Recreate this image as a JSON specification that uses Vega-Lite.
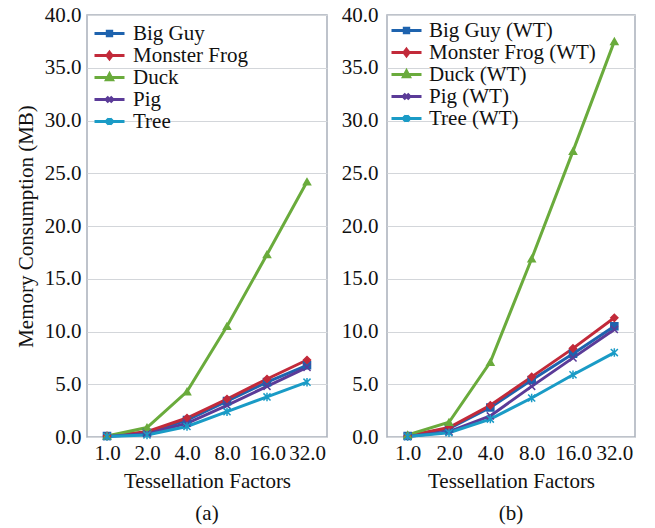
{
  "$schema": "https://vega.github.io/schema/vega-lite/v6.json",
  "padding": {"left": 14, "top": 3, "right": 10, "bottom": 2},
  "config": {
    "font": "Liberation Serif",
    "view": {"stroke": "#a9b0ba", "strokeWidth": 1.5},
    "axis": {"labelFont": "Liberation Serif", "titleFont": "Liberation Serif", "labelFontSize": 21, "titleFontSize": 21, "titleFontWeight": "normal", "labelColor": "#111", "titleColor": "#111", "ticks": false, "domain": false, "gridColor": "#d3d6da", "gridWidth": 1.2},
    "legend": {"labelFont": "Liberation Serif", "labelFontSize": 21, "labelColor": "#111", "labelLimit": 300, "rowPadding": 0, "symbolStrokeWidth": 3, "symbolSize": 400},
    "title": {"font": "Liberation Serif", "fontSize": 21, "fontWeight": "normal", "color": "#111"},
    "point": {"filled": true, "size": 50, "strokeWidth": 1.5, "opacity": 1}
  },
  "data": {"values": [
    {"panel":"a","series":"Big Guy","m":"Big Guy","f":"1.0","v":0.1},{"panel":"a","series":"Big Guy","m":"Big Guy","f":"2.0","v":0.4},{"panel":"a","series":"Big Guy","m":"Big Guy","f":"4.0","v":1.6},{"panel":"a","series":"Big Guy","m":"Big Guy","f":"8.0","v":3.4},{"panel":"a","series":"Big Guy","m":"Big Guy","f":"16.0","v":5.2},{"panel":"a","series":"Big Guy","m":"Big Guy","f":"32.0","v":6.8},
    {"panel":"a","series":"Monster Frog","m":"Monster Frog","f":"1.0","v":0.1},{"panel":"a","series":"Monster Frog","m":"Monster Frog","f":"2.0","v":0.5},{"panel":"a","series":"Monster Frog","m":"Monster Frog","f":"4.0","v":1.8},{"panel":"a","series":"Monster Frog","m":"Monster Frog","f":"8.0","v":3.6},{"panel":"a","series":"Monster Frog","m":"Monster Frog","f":"16.0","v":5.5},{"panel":"a","series":"Monster Frog","m":"Monster Frog","f":"32.0","v":7.3},
    {"panel":"a","series":"Duck","m":"Duck","f":"1.0","v":0.1},{"panel":"a","series":"Duck","m":"Duck","f":"2.0","v":0.9},{"panel":"a","series":"Duck","m":"Duck","f":"4.0","v":4.3},{"panel":"a","series":"Duck","m":"Duck","f":"8.0","v":10.5},{"panel":"a","series":"Duck","m":"Duck","f":"16.0","v":17.3},{"panel":"a","series":"Duck","m":"Duck","f":"32.0","v":24.2},
    {"panel":"a","series":"Pig","m":"Pig","f":"1.0","v":0.05},{"panel":"a","series":"Pig","m":"Pig","f":"2.0","v":0.3},{"panel":"a","series":"Pig","m":"Pig","f":"4.0","v":1.3},{"panel":"a","series":"Pig","m":"Pig","f":"8.0","v":3.0},{"panel":"a","series":"Pig","m":"Pig","f":"16.0","v":4.8},{"panel":"a","series":"Pig","m":"Pig","f":"32.0","v":6.6},
    {"panel":"a","series":"Tree","m":"Tree","f":"1.0","v":0.05},{"panel":"a","series":"Tree","m":"Tree","f":"2.0","v":0.2},{"panel":"a","series":"Tree","m":"Tree","f":"4.0","v":1.0},{"panel":"a","series":"Tree","m":"Tree","f":"8.0","v":2.4},{"panel":"a","series":"Tree","m":"Tree","f":"16.0","v":3.8},{"panel":"a","series":"Tree","m":"Tree","f":"32.0","v":5.2},
    {"panel":"b","series":"Big Guy (WT)","m":"Big Guy","f":"1.0","v":0.1},{"panel":"b","series":"Big Guy (WT)","m":"Big Guy","f":"2.0","v":0.8},{"panel":"b","series":"Big Guy (WT)","m":"Big Guy","f":"4.0","v":2.8},{"panel":"b","series":"Big Guy (WT)","m":"Big Guy","f":"8.0","v":5.4},{"panel":"b","series":"Big Guy (WT)","m":"Big Guy","f":"16.0","v":7.9},{"panel":"b","series":"Big Guy (WT)","m":"Big Guy","f":"32.0","v":10.5},
    {"panel":"b","series":"Monster Frog (WT)","m":"Monster Frog","f":"1.0","v":0.1},{"panel":"b","series":"Monster Frog (WT)","m":"Monster Frog","f":"2.0","v":0.9},{"panel":"b","series":"Monster Frog (WT)","m":"Monster Frog","f":"4.0","v":3.0},{"panel":"b","series":"Monster Frog (WT)","m":"Monster Frog","f":"8.0","v":5.7},{"panel":"b","series":"Monster Frog (WT)","m":"Monster Frog","f":"16.0","v":8.4},{"panel":"b","series":"Monster Frog (WT)","m":"Monster Frog","f":"32.0","v":11.3},
    {"panel":"b","series":"Duck (WT)","m":"Duck","f":"1.0","v":0.2},{"panel":"b","series":"Duck (WT)","m":"Duck","f":"2.0","v":1.4},{"panel":"b","series":"Duck (WT)","m":"Duck","f":"4.0","v":7.1},{"panel":"b","series":"Duck (WT)","m":"Duck","f":"8.0","v":16.9},{"panel":"b","series":"Duck (WT)","m":"Duck","f":"16.0","v":27.1},{"panel":"b","series":"Duck (WT)","m":"Duck","f":"32.0","v":37.5},
    {"panel":"b","series":"Pig (WT)","m":"Pig","f":"1.0","v":0.05},{"panel":"b","series":"Pig (WT)","m":"Pig","f":"2.0","v":0.5},{"panel":"b","series":"Pig (WT)","m":"Pig","f":"4.0","v":2.0},{"panel":"b","series":"Pig (WT)","m":"Pig","f":"8.0","v":4.8},{"panel":"b","series":"Pig (WT)","m":"Pig","f":"16.0","v":7.5},{"panel":"b","series":"Pig (WT)","m":"Pig","f":"32.0","v":10.2},
    {"panel":"b","series":"Tree (WT)","m":"Tree","f":"1.0","v":0.05},{"panel":"b","series":"Tree (WT)","m":"Tree","f":"2.0","v":0.4},{"panel":"b","series":"Tree (WT)","m":"Tree","f":"4.0","v":1.7},{"panel":"b","series":"Tree (WT)","m":"Tree","f":"8.0","v":3.7},{"panel":"b","series":"Tree (WT)","m":"Tree","f":"16.0","v":5.9},{"panel":"b","series":"Tree (WT)","m":"Tree","f":"32.0","v":8.0}
  ]},
  "resolve": {"scale": {"color": "independent"}, "legend": {"color": "independent"}},
  "spacing": 12,
  "hconcat": [
    {
      "width": 240, "height": 422,
      "title": {"text": "(a)", "orient": "bottom", "offset": 12},
      "transform": [{"filter": "datum.panel == 'a'"}],
      "encoding": {
        "x": {"field": "f", "type": "ordinal", "sort": ["1.0","2.0","4.0","8.0","16.0","32.0"], "title": "Tessellation Factors", "scale": {"type": "point", "padding": 0.5}, "axis": {"labelAngle": 0, "labelPadding": 5, "titlePadding": 7}},
        "y": {"field": "v", "type": "quantitative", "title": "Memory Consumption (MB)", "scale": {"domain": [0, 40]}, "axis": {"values": [0,5,10,15,20,25,30,35,40], "format": ".1f", "labelPadding": 6, "titlePadding": 8}},
        "color": {"field": "series", "type": "nominal", "title": null, "scale": {"domain": ["Big Guy","Monster Frog","Duck","Pig","Tree"], "range": ["#1e63ae","#c22a3a","#6aab3c","#5b3b98","#1a9bc6"]},
           "legend": {"orient": "top-left", "offset": 7, "labelOffset": 16, "encoding": {"symbols": {
             "shape": {"value": {"expr": "datum.value=='Big Guy'?'M-1.1,0H1.9M0.18,-0.22H0.62V0.22H0.18Z':datum.value=='Monster Frog'?'M-1.1,0H1.9M0.4,-0.32L0.65,0L0.4,0.32L0.15,0Z':datum.value=='Duck'?'M-1.1,0H1.9M0.4,-0.35L0.7,0.22L0.1,0.22Z':datum.value=='Pig'?'M-1.1,0H1.9M0.12,-0.28L0.68,0.28M0.12,0.28L0.68,-0.28':'M-1.1,0H1.9M0.12,-0.28L0.68,0.28M0.12,0.28L0.68,-0.28M0.4,-0.35V0.35'"}},
             "fill": {"value": {"expr": "datum.value=='Big Guy'?'#1e63ae':datum.value=='Monster Frog'?'#c22a3a':datum.value=='Duck'?'#6aab3c':datum.value=='Pig'?'#5b3b98':'#1a9bc6'"}},
             "stroke": {"value": {"expr": "datum.value=='Big Guy'?'#1e63ae':datum.value=='Monster Frog'?'#c22a3a':datum.value=='Duck'?'#6aab3c':datum.value=='Pig'?'#5b3b98':'#1a9bc6'"}},
             "strokeWidth": {"value": 3}
           }}}}
      },
      "layer": [
        {"mark": {"type": "line", "strokeWidth": 3}},
        {"mark": {"type": "point", "shape": "square"}, "transform": [{"filter": "datum.m == 'Big Guy'"}], "encoding": {"stroke": {"value": "#1e63ae"}}},
        {"mark": {"type": "point", "shape": "diamond"}, "transform": [{"filter": "datum.m == 'Monster Frog'"}], "encoding": {"stroke": {"value": "#c22a3a"}}},
        {"mark": {"type": "point", "shape": "triangle-up"}, "transform": [{"filter": "datum.m == 'Duck'"}], "encoding": {"stroke": {"value": "#6aab3c"}}},
        {"mark": {"type": "point", "shape": "M-1,-1L1,1M-1,1L1,-1"}, "transform": [{"filter": "datum.m == 'Pig'"}], "encoding": {"stroke": {"value": "#5b3b98"}}},
        {"mark": {"type": "point", "shape": "M-1,-1L1,1M-1,1L1,-1M0,-1.2L0,1.2"}, "transform": [{"filter": "datum.m == 'Tree'"}], "encoding": {"stroke": {"value": "#1a9bc6"}}}
      ]
    },
    {
      "width": 248, "height": 422,
      "title": {"text": "(b)", "orient": "bottom", "offset": 12},
      "transform": [{"filter": "datum.panel == 'b'"}],
      "encoding": {
        "x": {"field": "f", "type": "ordinal", "sort": ["1.0","2.0","4.0","8.0","16.0","32.0"], "title": "Tessellation Factors", "scale": {"type": "point", "padding": 0.5}, "axis": {"labelAngle": 0, "labelPadding": 5, "titlePadding": 7}},
        "y": {"field": "v", "type": "quantitative", "title": null, "scale": {"domain": [0, 40]}, "axis": {"values": [0,5,10,15,20,25,30,35,40], "format": ".1f", "labelPadding": 9}},
        "color": {"field": "series", "type": "nominal", "title": null, "scale": {"domain": ["Big Guy (WT)","Monster Frog (WT)","Duck (WT)","Pig (WT)","Tree (WT)"], "range": ["#1e63ae","#c22a3a","#6aab3c","#5b3b98","#1a9bc6"]},
           "legend": {"orient": "top-left", "offset": 4, "labelOffset": 15, "encoding": {"symbols": {
             "shape": {"value": {"expr": "datum.value=='Big Guy (WT)'?'M-1.1,0H1.9M0.18,-0.22H0.62V0.22H0.18Z':datum.value=='Monster Frog (WT)'?'M-1.1,0H1.9M0.4,-0.32L0.65,0L0.4,0.32L0.15,0Z':datum.value=='Duck (WT)'?'M-1.1,0H1.9M0.4,-0.35L0.7,0.22L0.1,0.22Z':datum.value=='Pig (WT)'?'M-1.1,0H1.9M0.12,-0.28L0.68,0.28M0.12,0.28L0.68,-0.28':'M-1.1,0H1.9M0.12,-0.28L0.68,0.28M0.12,0.28L0.68,-0.28M0.4,-0.35V0.35'"}},
             "fill": {"value": {"expr": "datum.value=='Big Guy (WT)'?'#1e63ae':datum.value=='Monster Frog (WT)'?'#c22a3a':datum.value=='Duck (WT)'?'#6aab3c':datum.value=='Pig (WT)'?'#5b3b98':'#1a9bc6'"}},
             "stroke": {"value": {"expr": "datum.value=='Big Guy (WT)'?'#1e63ae':datum.value=='Monster Frog (WT)'?'#c22a3a':datum.value=='Duck (WT)'?'#6aab3c':datum.value=='Pig (WT)'?'#5b3b98':'#1a9bc6'"}},
             "strokeWidth": {"value": 3}
           }}}}
      },
      "layer": [
        {"mark": {"type": "line", "strokeWidth": 3}},
        {"mark": {"type": "point", "shape": "square"}, "transform": [{"filter": "datum.m == 'Big Guy'"}], "encoding": {"stroke": {"value": "#1e63ae"}}},
        {"mark": {"type": "point", "shape": "diamond"}, "transform": [{"filter": "datum.m == 'Monster Frog'"}], "encoding": {"stroke": {"value": "#c22a3a"}}},
        {"mark": {"type": "point", "shape": "triangle-up"}, "transform": [{"filter": "datum.m == 'Duck'"}], "encoding": {"stroke": {"value": "#6aab3c"}}},
        {"mark": {"type": "point", "shape": "M-1,-1L1,1M-1,1L1,-1"}, "transform": [{"filter": "datum.m == 'Pig'"}], "encoding": {"stroke": {"value": "#5b3b98"}}},
        {"mark": {"type": "point", "shape": "M-1,-1L1,1M-1,1L1,-1M0,-1.2L0,1.2"}, "transform": [{"filter": "datum.m == 'Tree'"}], "encoding": {"stroke": {"value": "#1a9bc6"}}}
      ]
    }
  ]
}
